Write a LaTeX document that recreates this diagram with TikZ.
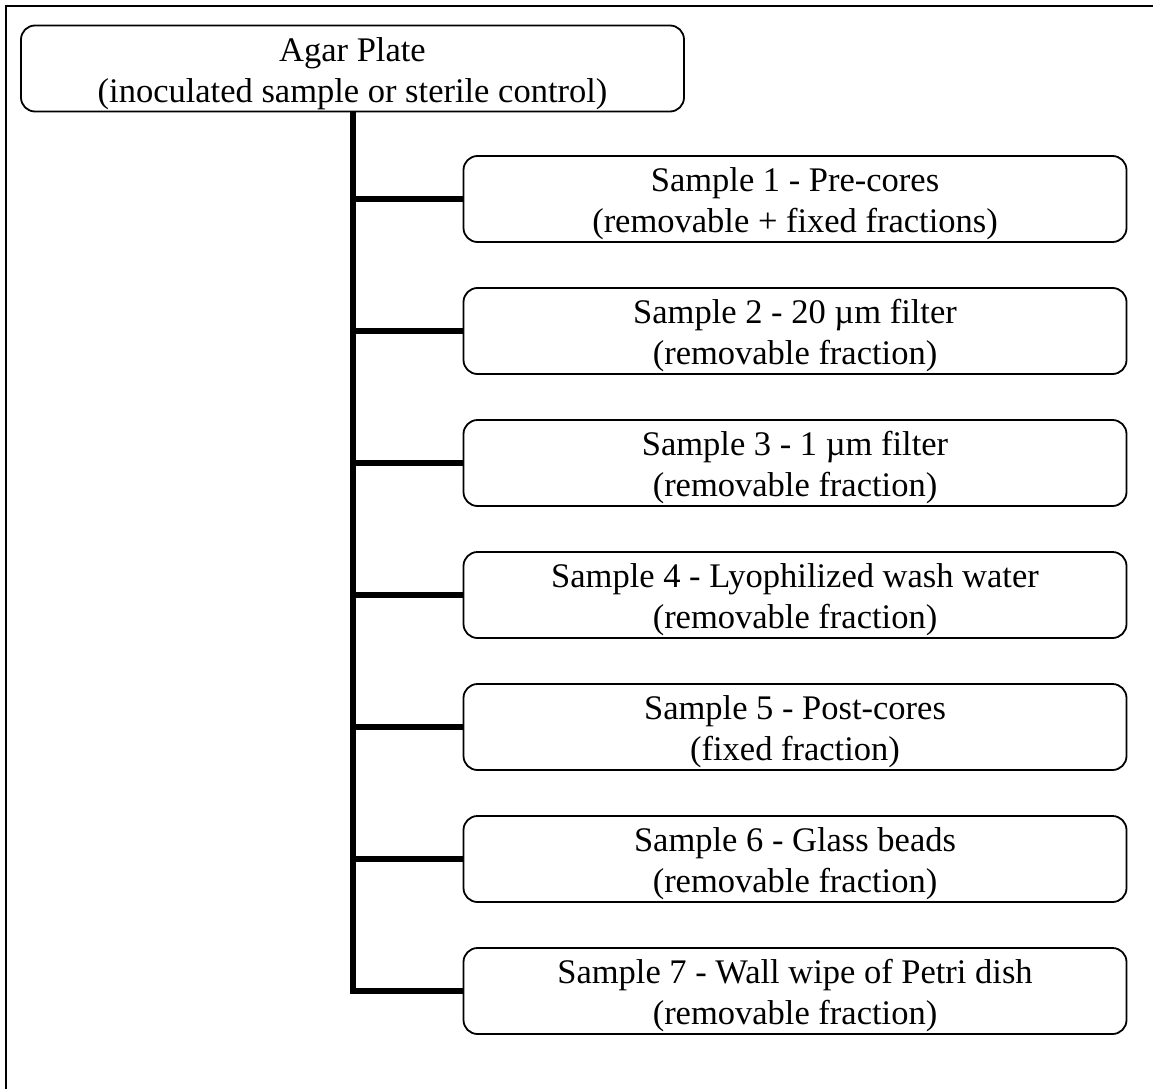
\documentclass[tikz,border=0pt]{standalone}
\usepackage{fontspec}
\setmainfont{Liberation Serif}
\newcommand\twolines[2]{\raisebox{-5pt}[\height][\depth]{\begin{tabular}{@{}c@{}}#1\\#2\end{tabular}}}
\begin{document}
\begin{tikzpicture}[x=1pt,y=-1pt,
  box/.style={draw, line width=1.8pt, rounded corners=14pt, minimum width=663pt, minimum height=86pt, inner sep=0pt, font=\fontsize{34.5}{41}\selectfont},
  trunk/.style={line width=6pt}]
\useasboundingbox (0,0) rectangle (1153,1089);
\draw[line width=2.2pt] (6,1089) -- (6,6) -- (1153,6);
\node[box] (top) at (352.5,68.5) {\twolines{Agar Plate}{(inoculated sample or sterile control)}};
\node[box] (s1) at (795,199) {\twolines{Sample 1 - Pre-cores}{(removable + fixed fractions)}};
\node[box] (s2) at (795,331) {\twolines{Sample 2 - 20 µm filter}{(removable fraction)}};
\node[box] (s3) at (795,463) {\twolines{Sample 3 - 1 µm filter}{(removable fraction)}};
\node[box] (s4) at (795,595) {\twolines{Sample 4 - Lyophilized wash water}{(removable fraction)}};
\node[box] (s5) at (795,727) {\twolines{Sample 5 - Post-cores}{(fixed fraction)}};
\node[box] (s6) at (795,859) {\twolines{Sample 6 - Glass beads}{(removable fraction)}};
\node[box] (s7) at (795,991) {\twolines{Sample 7 - Wall wipe of Petri dish}{(removable fraction)}};
\draw[trunk] (top.south) |- (s7.west);
\foreach \s in {s1,s2,s3,s4,s5,s6}
  \draw[trunk] (top.south |- \s.west) -- (\s.west);
\end{tikzpicture}
\end{document}
